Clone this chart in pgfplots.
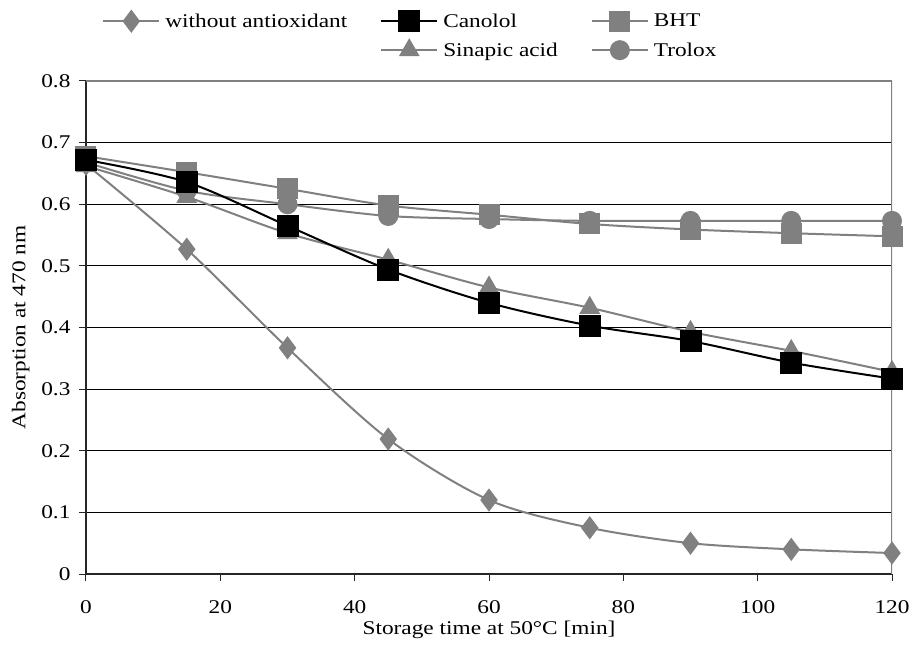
\documentclass[border=0pt]{standalone}
\usepackage{fontspec}
\setmainfont{Liberation Serif}[FakeStretch=1.2]
\usepackage{pgfplots}
\pgfplotsset{compat=1.18}

\begin{document}
\begin{tikzpicture}[font=\fontsize{19.5}{23}\selectfont]
\begin{axis}[
    scale only axis,
    width=806bp, height=493bp,
    xmin=0, xmax=120,
    ymin=0, ymax=0.8,
    axis lines=left,
    axis line style={-, draw=black!85, line width=1.3bp},
    xtick={0,20,40,60,80,100,120},
    ytick={0,0.1,0.2,0.3,0.4,0.5,0.6,0.7,0.8},
    yticklabels={0,0.1,0.2,0.3,0.4,0.5,0.6,0.7,0.8},
    /pgf/number format/assume math mode=true,
    tick align=outside,
    major tick length=7bp,
    tick style={draw=black!85, line width=1bp},
    xticklabel style={yshift=-16bp},
    yticklabel style={xshift=-5bp},
    ymajorgrids,
    grid style={draw=black, line width=0.9bp},
    xlabel={Storage time at 50°C [min]},
    ylabel={Absorption at 470 nm},
    xlabel style={yshift=-1bp},
    ylabel style={yshift=5bp},
    legend columns=3,
    legend cell align=left,
    legend image code/.code={
        \draw[mark repeat=2, mark phase=2]
            plot coordinates {(0bp,0bp) (28bp,0bp) (56bp,0bp)};
    },
    legend style={
        at={(axis description cs:0.02,1.142)}, anchor=north west,
        draw=none, fill=none, inner sep=0pt,
        row sep=9bp,
        nodes={inner xsep=5bp},
        /tikz/every even column/.append style={column sep=28bp}
    }
]
    % legend entries (layout of the original: 3 + blank/2)
    \addlegendimage{gray, line width=2bp, mark=diamond*, mark size=10bp, mark options={fill=gray, draw=gray}}
    \addlegendentry{without antioxidant}
    \addlegendimage{black, line width=2bp, mark=square*, mark size=10bp, mark options={fill=black, draw=black}}
    \addlegendentry{Canolol}
    \addlegendimage{gray, line width=2bp, mark=square*, mark size=9.5bp, mark options={fill=gray, draw=gray}}
    \addlegendentry{BHT}
    \addlegendimage{empty legend}
    \addlegendentry{}
    \addlegendimage{gray, line width=2bp, mark=triangle*, mark size=10bp, mark options={fill=gray, draw=gray}}
    \addlegendentry{Sinapic acid}
    \addlegendimage{gray, line width=2bp, mark=*, mark size=9bp, mark options={fill=gray, draw=gray}}
    \addlegendentry{Trolox}

    % without antioxidant
    \addplot[forget plot, gray, line width=2bp, smooth, tension=0.5,
        mark=diamond*, mark size=10bp, mark options={fill=gray, draw=gray}]
        coordinates {(0,0.665) (15,0.527) (30,0.367) (45,0.219) (60,0.120)
                     (75,0.075) (90,0.050) (105,0.040) (120,0.034)};
    % Sinapic acid
    \addplot[forget plot, gray, line width=2bp, smooth, tension=0.5,
        mark=triangle*, mark size=10bp, mark options={fill=gray, draw=gray}]
        coordinates {(0,0.662) (15,0.612) (30,0.553) (45,0.510) (60,0.465)
                     (75,0.432) (90,0.393) (105,0.362) (120,0.328)};
    % BHT
    \addplot[forget plot, gray, line width=2bp, smooth, tension=0.5,
        mark=square*, mark size=9.5bp, mark options={fill=gray, draw=gray}]
        coordinates {(0,0.678) (15,0.652) (30,0.625) (45,0.598) (60,0.583)
                     (75,0.568) (90,0.559) (105,0.553) (120,0.548)};
    % Trolox
    \addplot[forget plot, gray, line width=2bp, smooth, tension=0.5,
        mark=*, mark size=9bp, mark options={fill=gray, draw=gray}]
        coordinates {(0,0.668) (15,0.622) (30,0.600) (45,0.581) (60,0.576)
                     (75,0.573) (90,0.573) (105,0.573) (120,0.573)};
    % Canolol
    \addplot[forget plot, black, line width=2bp, smooth, tension=0.5,
        mark=square*, mark size=10bp, mark options={fill=black, draw=black}]
        coordinates {(0,0.672) (15,0.636) (30,0.565) (45,0.494) (60,0.440)
                     (75,0.403) (90,0.378) (105,0.343) (120,0.317)};

    % plot-area border on top and right
    \draw[gray, line width=2bp] (axis cs:0,0.8) -- (axis cs:120,0.8) -- (axis cs:120,0);
\end{axis}
\pgfresetboundingbox
\path[use as bounding box]
    ([xshift=-86bp,yshift=-83bp]current axis.south west)
    rectangle ([xshift=19bp,yshift=81bp]current axis.north east);
\end{tikzpicture}
\end{document}
